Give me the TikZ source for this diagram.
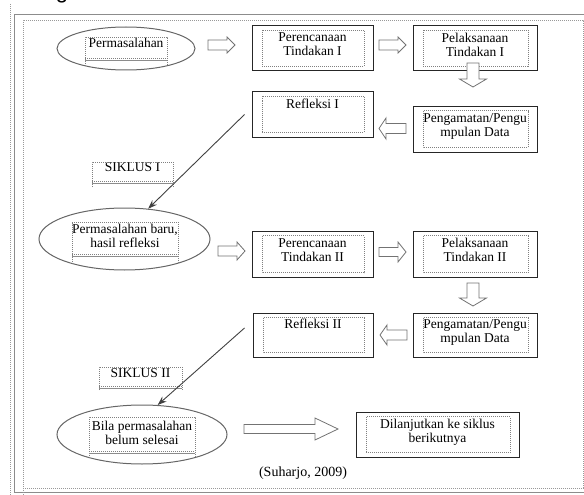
\documentclass[tikz,border=0pt]{standalone}
\usepackage{fontspec}
\setmainfont{Liberation Serif}
\newfontfamily\gfont{Liberation Sans}
\usetikzlibrary{shapes.geometric,arrows.meta,calc}
\tikzset{
  boxtxt/.style={font=\fontsize{13.5}{14}\selectfont},
  outerbox/.style={draw=black!85, line width=1pt, inner sep=0pt, align=center, boxtxt,
    minimum width=121pt, minimum height=45pt},
  dotline/.style={draw=black!50, line width=0.6pt, dash pattern=on 1pt off 1pt},
  gline/.style={draw=black!45, line width=0.9pt},
  ell/.style={ellipse, draw=black!60, line width=1pt, inner sep=0pt},
  barrow/.style={draw=black!55, line width=0.8pt, fill=white, line join=miter},
  diag/.style={draw=black!75, line width=0.9pt, -{Stealth[length=9pt,width=6.5pt]}},
}
% horizontal block arrow: tail x, tip x, y, shaft half, head half, head length (signed)
\newcommand{\blockH}[6]{\draw[barrow] (#1,{#3-#4}) -- ({#2-#6},{#3-#4}) -- ({#2-#6},{#3-#5}) -- (#2,#3) -- ({#2-#6},{#3+#5}) -- ({#2-#6},{#3+#4}) -- (#1,{#3+#4}) -- cycle;}
% vertical block arrow: tail y, tip y, x, shaft half, head half, head length (signed)
\newcommand{\blockV}[6]{\draw[barrow] ({#3-#4},#1) -- ({#3-#4},{#2-#6}) -- ({#3-#5},{#2-#6}) -- (#3,#2) -- ({#3+#5},{#2-#6}) -- ({#3+#4},{#2-#6}) -- ({#3+#4},#1) -- cycle;}
\begin{document}
\begin{tikzpicture}[x=1pt,y=-1pt]
\useasboundingbox (0,0) rectangle (584,495);
% frame
\draw[black!40, line width=0.6pt, dash pattern=on 1pt off 1pt] (10.5,4) -- (10.5,495);
\draw[black!45, line width=1.5pt] (590,14.5) -- (14.5,14.5) -- (14.5,492.5) -- (590,492.5);
\draw[dotline, draw=black!40] (23,495) -- (23,20) -- (583,20) -- (583,488) -- (23,488);
\node[font=\gfont\fontsize{22}{22}\selectfont, anchor=base, inner sep=0pt] (g) at (62,-1.5) {g};

% cycle I
\node[ell, minimum width=138pt, minimum height=43pt] (e1) at (126,48.5) {};
\node[boxtxt, inner sep=0pt] (t1) at (126,43) {Permasalahan};
\node[outerbox] (p1) at (312.5,48) {Perencanaan\\Tindakan I\\[-6pt]\mbox{}};
\node[outerbox, minimum width=124pt] (l1) at (475,48.5) {Pelaksanaan\\Tindakan I\\[-6pt]\mbox{}};
\node[outerbox, minimum width=124pt, minimum height=46pt] (o1) at (475,129) {Pengamatan/Pengu\\mpulan Data\\[-6pt]\mbox{}};
\node[outerbox] (r1) at (312.5,114.5) {Refleksi I\\[8pt]\mbox{}};
\node[boxtxt, inner sep=0pt] (s1) at (132.5,167) {SIKLUS I};

% cycle II
\node[ell, minimum width=171pt, minimum height=62pt] (e2) at (124.5,239) {};
\node[boxtxt, inner sep=0pt, align=center] (t2) at (125,236) {Permasalahan baru,\\hasil refleksi};
\node[outerbox, minimum height=46pt] (p2) at (312.5,254) {Perencanaan\\Tindakan II\\[-6pt]\mbox{}};
\node[outerbox, minimum width=124pt, minimum height=46pt] (l2) at (475,254) {Pelaksanaan\\Tindakan II\\[-6pt]\mbox{}};
\node[outerbox, minimum width=124pt, minimum height=44pt] (o2) at (475,335) {Pengamatan/Pengu\\mpulan Data\\[-6pt]\mbox{}};
\node[outerbox, minimum width=120pt, minimum height=44pt] (r2) at (313,335) {Refleksi II\\[8pt]\mbox{}};
\node[boxtxt, inner sep=0pt] (s2) at (140.5,373) {SIKLUS II};

% end
\node[ell, minimum width=170pt, minimum height=59pt] (e3) at (142,434.5) {};
\node[boxtxt, inner sep=0pt, align=center] (t3) at (142,432.5) {Bila permasalahan\\belum selesai};
\node[outerbox, minimum width=163pt] (d) at (437.5,434.5) {Dilanjutkan ke siklus\\berikutnya\\[-7pt]\mbox{}};
\node[font=\fontsize{14}{15}\selectfont, inner sep=0pt] (src) at (303,473) {(Suharjo, 2009)};

% inner dotted boxes
\foreach \n in {p1,l1,o1,r1,p2,l2,o2,r2,d}
  \draw[dotline] ($(\n.north west)+(10.5,5)$) rectangle ($(\n.south east)+(-9.5,-5)$);

% text boxes inside ellipses and siklus labels
\begin{scope}
  \clip (e1.center) ellipse [x radius=69pt, y radius=21.5pt];
  \draw[dotline] (85,90) -- (85,37) -- (167,37) -- (167,90);
  \draw[dotline] (85,58.5) -- (167,58.5);
  \draw[gline] (85,60) -- (167,60);
\end{scope}
\begin{scope}
  \clip (e2.center) ellipse [x radius=85.5pt, y radius=31pt];
  \draw[dotline] (72,290) -- (72,222) -- (178,222) -- (178,290);
  \draw[dotline] (72,254.5) -- (178,254.5);
  \draw[gline] (72,256) -- (178,256);
\end{scope}
\begin{scope}
  \clip (e3.center) ellipse [x radius=85pt, y radius=29.5pt];
  \draw[dotline] (89,490) -- (89,417) -- (195,417) -- (195,490);
  \draw[dotline] (89,451.5) -- (195,451.5);
  \draw[gline] (89,453) -- (195,453);
\end{scope}
\draw[dotline] (92,187) -- (92,162) -- (173,162) -- (173,187);
\draw[dotline] (92,181.5) -- (173,181.5);
\draw[gline] (92,183) -- (173,183);
\draw[dotline] (99,390) -- (99,367) -- (182,367) -- (182,390);
\draw[dotline] (99,386.5) -- (182,386.5);
\draw[gline] (99,388) -- (182,388);

% block arrows
\blockH{208}{235}{45}{5}{8}{8}
\blockH{379}{406}{45}{5}{8}{8}
\blockV{63}{87}{473}{6}{13.5}{8}
\blockH{406}{379}{128.5}{5}{10.5}{-7}
\blockH{218}{245}{251}{5}{9}{8}
\blockH{379}{406}{252}{4.5}{10}{8}
\blockV{283}{306}{473}{6}{13.5}{8}
\blockH{407}{380}{335}{5}{10}{-7}
\blockH{244}{338}{429}{4.5}{11}{23}

% cycle connectors
\draw[diag] ($(r1.west)+(-7,0)$) -- (e2.52);
\draw[diag] ($(r2.west)+(-8,-7)$) -- (e3.62);
\end{tikzpicture}
\end{document}
